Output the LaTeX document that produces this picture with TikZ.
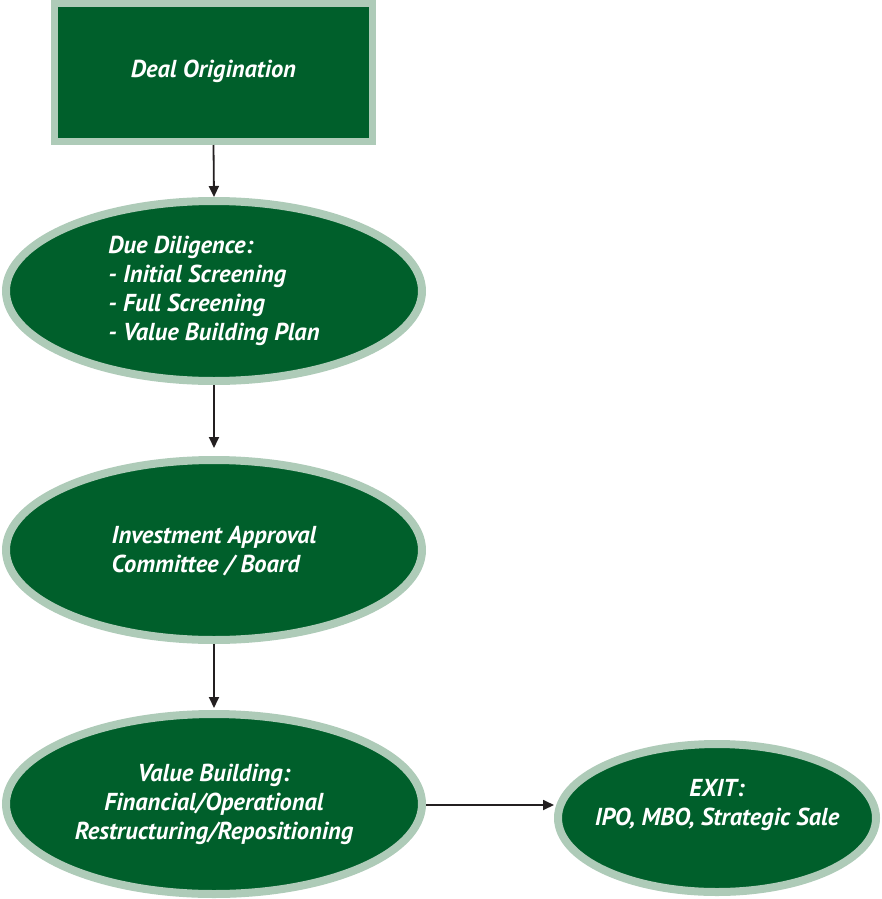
\documentclass[tikz,border=0pt]{standalone}
\usepackage{fontspec}
\setmainfont{PT Sans}
\usetikzlibrary{shapes.geometric,arrows.meta}
\definecolor{dkgreen}{HTML}{005F2B}
\definecolor{ltgreen}{HTML}{AECBB8}
\definecolor{arrowc}{HTML}{231F20}
\tikzset{
  box/.style={rectangle, draw=ltgreen, fill=dkgreen, line width=7pt, inner sep=0pt,
    minimum width=318pt, minimum height=138pt, text=white},
  oval/.style={ellipse, draw=ltgreen, fill=dkgreen, line width=8pt, inner sep=0pt,
    minimum width=416pt, minimum height=180pt, text=white},
  lbl/.style={text=white, font=\fontsize{24.5}{29}\selectfont\bfseries\itshape},
  conn/.style={draw=arrowc, line width=1.8pt, -{Triangle[length=11pt,width=10pt]}},
}
\begin{document}
\begin{tikzpicture}[x=1pt,y=-1pt]
\useasboundingbox (0,0) rectangle (881,899);
\node[box] (orig) at (213.5,72.5) {};
\node[lbl] (origt) at (213.5,71) {Deal Origination};
\node[oval] (dd) at (214,291) {};
\node[lbl, align=left] (ddt) at (214,291) {Due Diligence:\\- Initial Screening\\- Full Screening\\- Value Building Plan};
\node[oval] (iac) at (214,550) {};
\node[lbl, align=left] (iact) at (214,551) {Investment Approval\\Committee / Board};
\node[oval] (vb) at (214,804) {};
\node[lbl, align=center] (vbt) at (214,804) {Value Building:\\Financial/Operational\\Restructuring/Repositioning};
\node[oval, minimum width=318pt, minimum height=148pt] (exit) at (717,818) {};
\node[lbl, align=center] (exitt) at (717,805) {EXIT:\\IPO, MBO, Strategic Sale};
\draw[conn] (orig.south) -- (dd.north);
\draw[conn, shorten >=8pt] (dd.south) -- (iac.north);
\draw[conn, shorten >=2pt] (iac.south) -- (vb.north);
\draw[conn] (vb.east |- 0,805) -- (exit.west |- 0,805);
\end{tikzpicture}
\end{document}
